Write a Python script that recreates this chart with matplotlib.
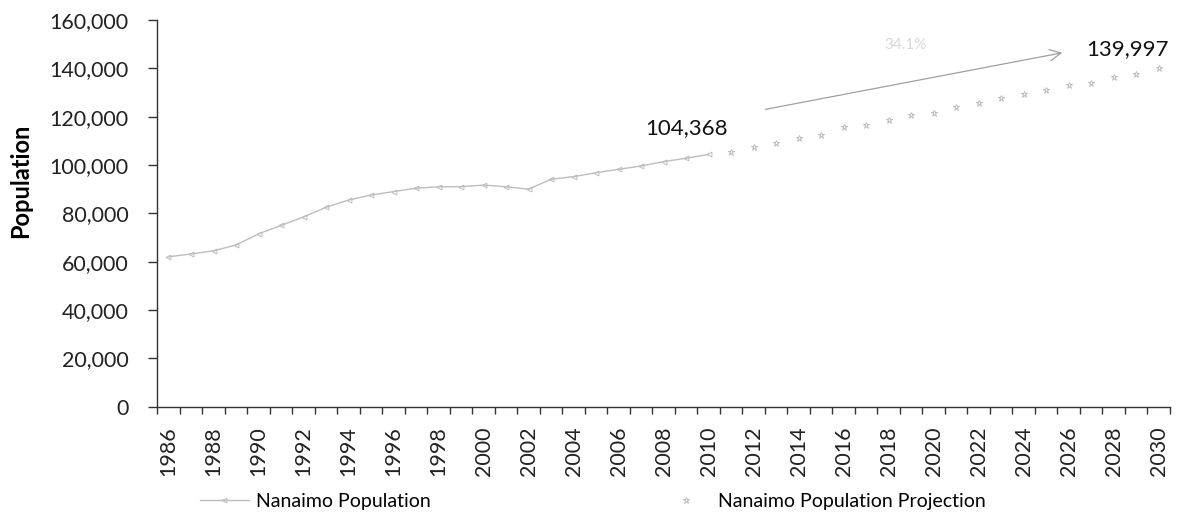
import matplotlib
matplotlib.use("Agg")
import matplotlib.pyplot as plt
from matplotlib.ticker import FuncFormatter, MultipleLocator, FixedLocator

years_hist = list(range(1986, 2011))
pop_hist = [62000, 63200, 64500, 66900, 71500, 75000, 78500, 82500, 85500, 87600,
            89000, 90400, 91000, 91000, 91700, 91000, 90000, 94100, 95200, 96800,
            98200, 99600, 101400, 102800, 104368]
years_proj = list(range(2011, 2031))
pop_proj = [105500, 107600, 109200, 111000, 112400, 115600, 116600, 118600, 120700, 121700,
            123900, 125800, 127600, 129400, 131000, 133100, 134100, 136300, 137700, 139997]
x_labels = list(range(1986, 2031, 2))
label_start = "104,368"
label_end = "139,997"
growth_text = "34.1%"

FONT = ["Lato", "DejaVu Sans"]
plt.rcParams['font.family'] = FONT

fig = plt.figure(figsize=(11.77, 5.18), dpi=100)
ax = fig.add_axes([0.1336, 0.2149, 0.8604, 0.7465])

gray = "#bdbdbd"
ax.plot(years_hist, pop_hist, color=gray, lw=1.0, marker='<', ms=3.5,
        mfc='none', mec=gray, mew=0.7, label="Nanaimo Population")
ax.plot(years_proj, pop_proj, linestyle='none', color=gray, marker='*', ms=5,
        mfc='none', mec=gray, mew=0.7, label="Nanaimo Population Projection")

ax.set_xlim(1985.5, 2030.5)
ax.set_ylim(0, 160000)
ax.xaxis.set_major_locator(FixedLocator(x_labels))
ax.xaxis.set_minor_locator(MultipleLocator(1, offset=0.5))
ax.tick_params(axis='x', which='major', length=0, labelsize=15.5, labelrotation=90, pad=14, colors='#222222')
ax.tick_params(axis='x', which='minor', length=5, width=1, direction='out', color='#333333')
ax.yaxis.set_major_locator(MultipleLocator(20000))
ax.yaxis.set_major_formatter(FuncFormatter(lambda v, p: f"{int(v):,}"))
ax.tick_params(axis='y', length=6.5, width=1, direction='out', labelsize=15.5, colors='#222222', pad=14)
ax.tick_params(axis='y', color='#333333')
for s in ['top', 'right']:
    ax.spines[s].set_visible(False)
for s in ['left', 'bottom']:
    ax.spines[s].set_color('#333333')
    ax.spines[s].set_linewidth(1.0)

ax.set_ylabel("Population", fontsize=17, fontweight='bold')
ax.yaxis.set_label_coords(-0.1237, 0.585)

ax.annotate(label_start, xy=(years_hist[-1], pop_hist[-1]), xytext=(-21.6, 26.5),
            textcoords='offset pixels', ha='center', va='center', fontsize=16, color='#111111')
ax.annotate(label_end, xy=(years_proj[-1], pop_proj[-1]), xytext=(-31, 19),
            textcoords='offset pixels', ha='center', va='center', fontsize=16, color='#111111')
ax.annotate("", xy=(2025.84, 146650), xytext=(2012.4, 122800),
            arrowprops=dict(arrowstyle='->', color='#a0a0a0', lw=0.9, mutation_scale=20))
ax.text(2018.73, 149670, growth_text, fontsize=11, color='#d8d8d8', ha='center', va='center')

leg = fig.legend(loc='center left', bbox_to_anchor=(0.1699, 0.0328), ncol=2, frameon=False,
                 fontsize=14, columnspacing=11.85, handlelength=2.5, handletextpad=0.4,
                 borderpad=0, borderaxespad=0)
plt.savefig("out.png", dpi=100)
